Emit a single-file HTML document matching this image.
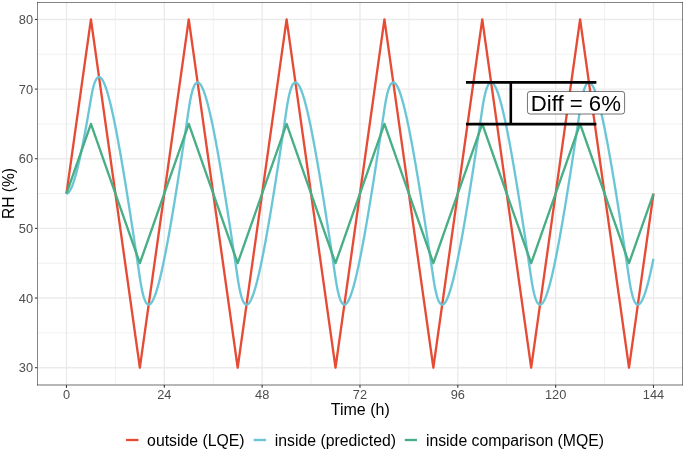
<!DOCTYPE html>
<html><head><meta charset="utf-8"><style>
html,body{margin:0;padding:0;background:#fff;}
body{width:685px;height:451px;overflow:hidden;font-family:"Liberation Sans",sans-serif;}
svg{display:block;will-change:transform;}
</style></head><body>
<svg width="685" height="451" viewBox="0 0 685 451">
<rect x="0" y="0" width="685" height="451" fill="#fff"/>
<line x1="37.12" x2="682.82" y1="332.88" y2="332.88" stroke="#EBEBEB" stroke-width="0.7"/>
<line x1="37.12" x2="682.82" y1="263.23" y2="263.23" stroke="#EBEBEB" stroke-width="0.7"/>
<line x1="37.12" x2="682.82" y1="193.57" y2="193.57" stroke="#EBEBEB" stroke-width="0.7"/>
<line x1="37.12" x2="682.82" y1="123.92" y2="123.92" stroke="#EBEBEB" stroke-width="0.7"/>
<line x1="37.12" x2="682.82" y1="54.28" y2="54.28" stroke="#EBEBEB" stroke-width="0.7"/>
<line y1="2.04" y2="385.11" x1="115.39" x2="115.39" stroke="#EBEBEB" stroke-width="0.7"/>
<line y1="2.04" y2="385.11" x1="213.22" x2="213.22" stroke="#EBEBEB" stroke-width="0.7"/>
<line y1="2.04" y2="385.11" x1="311.05" x2="311.05" stroke="#EBEBEB" stroke-width="0.7"/>
<line y1="2.04" y2="385.11" x1="408.89" x2="408.89" stroke="#EBEBEB" stroke-width="0.7"/>
<line y1="2.04" y2="385.11" x1="506.72" x2="506.72" stroke="#EBEBEB" stroke-width="0.7"/>
<line y1="2.04" y2="385.11" x1="604.55" x2="604.55" stroke="#EBEBEB" stroke-width="0.7"/>
<line x1="37.12" x2="682.82" y1="367.7" y2="367.7" stroke="#EBEBEB" stroke-width="1.4"/>
<line x1="37.12" x2="682.82" y1="298.05" y2="298.05" stroke="#EBEBEB" stroke-width="1.4"/>
<line x1="37.12" x2="682.82" y1="228.4" y2="228.4" stroke="#EBEBEB" stroke-width="1.4"/>
<line x1="37.12" x2="682.82" y1="158.75" y2="158.75" stroke="#EBEBEB" stroke-width="1.4"/>
<line x1="37.12" x2="682.82" y1="89.1" y2="89.1" stroke="#EBEBEB" stroke-width="1.4"/>
<line x1="37.12" x2="682.82" y1="19.45" y2="19.45" stroke="#EBEBEB" stroke-width="1.4"/>
<line y1="2.04" y2="385.11" x1="66.47" x2="66.47" stroke="#EBEBEB" stroke-width="1.4"/>
<line y1="2.04" y2="385.11" x1="164.3" x2="164.3" stroke="#EBEBEB" stroke-width="1.4"/>
<line y1="2.04" y2="385.11" x1="262.14" x2="262.14" stroke="#EBEBEB" stroke-width="1.4"/>
<line y1="2.04" y2="385.11" x1="359.97" x2="359.97" stroke="#EBEBEB" stroke-width="1.4"/>
<line y1="2.04" y2="385.11" x1="457.8" x2="457.8" stroke="#EBEBEB" stroke-width="1.4"/>
<line y1="2.04" y2="385.11" x1="555.64" x2="555.64" stroke="#EBEBEB" stroke-width="1.4"/>
<line y1="2.04" y2="385.11" x1="653.47" x2="653.47" stroke="#EBEBEB" stroke-width="1.4"/>
<polyline fill="none" stroke="#E64B35" stroke-width="2.35" stroke-linejoin="round" stroke-linecap="butt" points="66.47,193.57 90.93,19.45 139.85,367.7 188.76,19.45 237.68,367.7 286.6,19.45 335.51,367.7 384.43,19.45 433.35,367.7 482.26,19.45 531.18,367.7 580.1,19.45 629.01,367.7 653.47,193.57"/>
<polyline fill="none" stroke="#6AC6D7" stroke-width="2.35" stroke-linejoin="round" stroke-linecap="butt" points="66.47,193.57 66.88,193.53 67.29,193.4 67.69,193.19 68.1,192.89 68.51,192.51 68.92,192.06 69.32,191.54 69.73,190.94 70.14,190.27 70.55,189.53 70.95,188.73 71.36,187.87 71.77,186.94 72.18,185.96 72.58,184.91 72.99,183.81 73.4,182.65 73.81,181.45 74.22,180.19 74.62,178.88 75.03,177.52 75.44,176.11 75.85,174.66 76.25,173.17 76.66,171.63 77.07,170.06 77.48,168.44 77.88,166.78 78.29,165.09 78.7,163.35 79.11,161.59 79.51,159.79 79.92,157.95 80.33,156.09 80.74,154.19 81.15,152.26 81.55,150.3 81.96,148.31 82.37,146.3 82.78,144.26 83.18,142.19 83.59,140.1 84,137.98 84.41,135.84 84.81,133.67 85.22,131.49 85.63,129.28 86.04,127.05 86.44,124.8 86.85,122.53 87.26,120.24 87.67,117.94 88.07,115.61 88.48,113.27 88.89,110.91 89.3,108.53 89.71,106.14 90.11,103.73 90.52,101.31 90.93,98.87 91.34,96.51 91.74,94.31 92.15,92.26 92.56,90.36 92.97,88.61 93.37,86.99 93.78,85.52 94.19,84.18 94.6,82.96 95,81.87 95.41,80.91 95.82,80.06 96.23,79.32 96.64,78.69 97.04,78.17 97.45,77.76 97.86,77.44 98.27,77.22 98.67,77.1 99.08,77.07 99.49,77.12 99.9,77.27 100.3,77.49 100.71,77.8 101.12,78.19 101.53,78.65 101.93,79.19 102.34,79.8 102.75,80.47 103.16,81.22 103.57,82.03 103.97,82.9 104.38,83.84 104.79,84.84 105.2,85.89 105.6,87 106.01,88.16 106.42,89.38 106.83,90.64 107.23,91.96 107.64,93.32 108.05,94.74 108.46,96.19 108.86,97.69 109.27,99.24 109.68,100.82 110.09,102.44 110.5,104.11 110.9,105.81 111.31,107.54 111.72,109.31 112.13,111.12 112.53,112.96 112.94,114.83 113.35,116.73 113.76,118.67 114.16,120.63 114.57,122.62 114.98,124.64 115.39,126.69 115.79,128.76 116.2,130.85 116.61,132.97 117.02,135.12 117.42,137.29 117.83,139.48 118.24,141.69 118.65,143.92 119.06,146.17 119.46,148.44 119.87,150.74 120.28,153.05 120.69,155.37 121.09,157.72 121.5,160.08 121.91,162.46 122.32,164.85 122.72,167.26 123.13,169.69 123.54,172.13 123.95,174.58 124.35,177.05 124.76,179.53 125.17,182.02 125.58,184.52 125.99,187.04 126.39,189.57 126.8,192.11 127.21,194.66 127.62,197.22 128.02,199.8 128.43,202.38 128.84,204.97 129.25,207.57 129.65,210.18 130.06,212.8 130.47,215.43 130.88,218.06 131.28,220.71 131.69,223.36 132.1,226.02 132.51,228.69 132.92,231.36 133.32,234.04 133.73,236.73 134.14,239.42 134.55,242.12 134.95,244.83 135.36,247.54 135.77,250.26 136.18,252.98 136.58,255.71 136.99,258.45 137.4,261.19 137.81,263.93 138.21,266.68 138.62,269.43 139.03,272.19 139.44,274.96 139.85,277.72 140.25,280.41 140.66,282.92 141.07,285.27 141.48,287.46 141.88,289.49 142.29,291.38 142.7,293.12 143.11,294.72 143.51,296.18 143.92,297.52 144.33,298.72 144.74,299.8 145.14,300.76 145.55,301.6 145.96,302.33 146.37,302.94 146.78,303.45 147.18,303.86 147.59,304.17 148,304.38 148.41,304.5 148.81,304.52 149.22,304.46 149.63,304.31 150.04,304.07 150.44,303.76 150.85,303.36 151.26,302.89 151.67,302.35 152.07,301.74 152.48,301.05 152.89,300.3 153.3,299.49 153.7,298.61 154.11,297.67 154.52,296.67 154.93,295.61 155.34,294.5 155.74,293.33 156.15,292.11 156.56,290.84 156.97,289.52 157.37,288.15 157.78,286.73 158.19,285.27 158.6,283.77 159,282.22 159.41,280.63 159.82,279.01 160.23,277.34 160.63,275.64 161.04,273.9 161.45,272.12 161.86,270.31 162.27,268.47 162.67,266.6 163.08,264.69 163.49,262.76 163.9,260.79 164.3,258.8 164.71,256.78 165.12,254.73 165.53,252.66 165.93,250.56 166.34,248.44 166.75,246.29 167.16,244.12 167.56,241.93 167.97,239.72 168.38,237.48 168.79,235.23 169.2,232.95 169.6,230.66 170.01,228.35 170.42,226.02 170.83,223.67 171.23,221.31 171.64,218.93 172.05,216.53 172.46,214.12 172.86,211.7 173.27,209.26 173.68,206.8 174.09,204.33 174.49,201.85 174.9,199.36 175.31,196.85 175.72,194.34 176.13,191.81 176.53,189.26 176.94,186.71 177.35,184.15 177.76,181.58 178.16,178.99 178.57,176.4 178.98,173.8 179.39,171.19 179.79,168.57 180.2,165.94 180.61,163.3 181.02,160.66 181.42,158.01 181.83,155.35 182.24,152.68 182.65,150 183.06,147.32 183.46,144.63 183.87,141.94 184.28,139.24 184.69,136.53 185.09,133.82 185.5,131.1 185.91,128.38 186.32,125.65 186.72,122.91 187.13,120.17 187.54,117.43 187.95,114.68 188.35,111.92 188.76,109.16 189.17,106.49 189.58,103.98 189.98,101.64 190.39,99.46 190.8,97.43 191.21,95.55 191.62,93.82 192.02,92.22 192.43,90.77 192.84,89.44 193.25,88.24 193.65,87.17 194.06,86.22 194.47,85.38 194.88,84.66 195.28,84.05 195.69,83.54 196.1,83.14 196.51,82.83 196.91,82.63 197.32,82.52 197.73,82.5 198.14,82.57 198.55,82.72 198.95,82.96 199.36,83.28 199.77,83.67 200.18,84.14 200.58,84.69 200.99,85.31 201.4,86 201.81,86.75 202.21,87.57 202.62,88.45 203.03,89.39 203.44,90.4 203.84,91.46 204.25,92.57 204.66,93.74 205.07,94.97 205.48,96.24 205.88,97.56 206.29,98.93 206.7,100.35 207.11,101.81 207.51,103.32 207.92,104.87 208.33,106.46 208.74,108.08 209.14,109.75 209.55,111.46 209.96,113.2 210.37,114.97 210.77,116.79 211.18,118.63 211.59,120.5 212,122.41 212.41,124.35 212.81,126.31 213.22,128.31 213.63,130.33 214.04,132.38 214.44,134.45 214.85,136.55 215.26,138.68 215.67,140.83 216.07,143 216.48,145.19 216.89,147.4 217.3,149.64 217.7,151.89 218.11,154.17 218.52,156.46 218.93,158.77 219.33,161.1 219.74,163.45 220.15,165.82 220.56,168.2 220.97,170.59 221.37,173 221.78,175.43 222.19,177.87 222.6,180.33 223,182.8 223.41,185.28 223.82,187.77 224.23,190.28 224.63,192.8 225.04,195.33 225.45,197.87 225.86,200.42 226.26,202.98 226.67,205.56 227.08,208.14 227.49,210.73 227.9,213.34 228.3,215.95 228.71,218.57 229.12,221.2 229.53,223.83 229.93,226.48 230.34,229.13 230.75,231.79 231.16,234.46 231.56,237.14 231.97,239.82 232.38,242.51 232.79,245.2 233.19,247.9 233.6,250.61 234.01,253.32 234.42,256.04 234.83,258.77 235.23,261.5 235.64,264.23 236.05,266.97 236.46,269.72 236.86,272.47 237.27,275.22 237.68,277.98 238.09,280.65 238.49,283.16 238.9,285.5 239.31,287.68 239.72,289.71 240.12,291.59 240.53,293.33 240.94,294.92 241.35,296.38 241.76,297.7 242.16,298.9 242.57,299.98 242.98,300.93 243.39,301.76 243.79,302.49 244.2,303.1 244.61,303.61 245.02,304.01 245.42,304.31 245.83,304.52 246.24,304.63 246.65,304.65 247.05,304.58 247.46,304.43 247.87,304.19 248.28,303.87 248.69,303.48 249.09,303 249.5,302.46 249.91,301.84 250.32,301.15 250.72,300.4 251.13,299.58 251.54,298.7 251.95,297.75 252.35,296.75 252.76,295.69 253.17,294.58 253.58,293.41 253.98,292.18 254.39,290.91 254.8,289.59 255.21,288.22 255.61,286.8 256.02,285.34 256.43,283.83 256.84,282.28 257.25,280.69 257.65,279.06 258.06,277.4 258.47,275.69 258.88,273.95 259.28,272.17 259.69,270.36 260.1,268.52 260.51,266.64 260.91,264.74 261.32,262.8 261.73,260.83 262.14,258.84 262.54,256.82 262.95,254.77 263.36,252.69 263.77,250.59 264.18,248.47 264.58,246.32 264.99,244.15 265.4,241.96 265.81,239.75 266.21,237.51 266.62,235.26 267.03,232.98 267.44,230.69 267.84,228.37 268.25,226.04 268.66,223.7 269.07,221.33 269.47,218.95 269.88,216.56 270.29,214.14 270.7,211.72 271.11,209.28 271.51,206.82 271.92,204.35 272.33,201.87 272.74,199.38 273.14,196.87 273.55,194.35 273.96,191.82 274.37,189.28 274.77,186.73 275.18,184.16 275.59,181.59 276,179.01 276.4,176.42 276.81,173.81 277.22,171.2 277.63,168.58 278.04,165.95 278.44,163.32 278.85,160.67 279.26,158.02 279.67,155.36 280.07,152.69 280.48,150.01 280.89,147.33 281.3,144.64 281.7,141.95 282.11,139.25 282.52,136.54 282.93,133.83 283.33,131.11 283.74,128.38 284.15,125.65 284.56,122.92 284.97,120.18 285.37,117.43 285.78,114.68 286.19,111.93 286.6,109.17 287,106.5 287.41,103.99 287.82,101.65 288.23,99.47 288.63,97.44 289.04,95.56 289.45,93.82 289.86,92.23 290.26,90.77 290.67,89.45 291.08,88.25 291.49,87.17 291.89,86.22 292.3,85.39 292.71,84.66 293.12,84.05 293.53,83.54 293.93,83.14 294.34,82.84 294.75,82.63 295.16,82.52 295.56,82.5 295.97,82.57 296.38,82.72 296.79,82.96 297.19,83.28 297.6,83.67 298.01,84.15 298.42,84.69 298.82,85.31 299.23,86 299.64,86.75 300.05,87.57 300.46,88.45 300.86,89.4 301.27,90.4 301.68,91.46 302.09,92.57 302.49,93.74 302.9,94.97 303.31,96.24 303.72,97.56 304.12,98.93 304.53,100.35 304.94,101.81 305.35,103.32 305.75,104.87 306.16,106.46 306.57,108.09 306.98,109.75 307.39,111.46 307.79,113.2 308.2,114.98 308.61,116.79 309.02,118.63 309.42,120.51 309.83,122.41 310.24,124.35 310.65,126.32 311.05,128.31 311.46,130.33 311.87,132.38 312.28,134.46 312.68,136.56 313.09,138.68 313.5,140.83 313.91,143 314.32,145.19 314.72,147.4 315.13,149.64 315.54,151.89 315.95,154.17 316.35,156.46 316.76,158.78 317.17,161.11 317.58,163.45 317.98,165.82 318.39,168.2 318.8,170.59 319.21,173.01 319.61,175.43 320.02,177.87 320.43,180.33 320.84,182.8 321.25,185.28 321.65,187.77 322.06,190.28 322.47,192.8 322.88,195.33 323.28,197.87 323.69,200.42 324.1,202.99 324.51,205.56 324.91,208.14 325.32,210.73 325.73,213.34 326.14,215.95 326.54,218.57 326.95,221.2 327.36,223.83 327.77,226.48 328.17,229.13 328.58,231.79 328.99,234.46 329.4,237.14 329.81,239.82 330.21,242.51 330.62,245.2 331.03,247.9 331.44,250.61 331.84,253.32 332.25,256.04 332.66,258.77 333.07,261.5 333.47,264.23 333.88,266.97 334.29,269.72 334.7,272.47 335.1,275.22 335.51,277.98 335.92,280.65 336.33,283.16 336.74,285.5 337.14,287.68 337.55,289.71 337.96,291.59 338.37,293.33 338.77,294.92 339.18,296.38 339.59,297.7 340,298.9 340.4,299.98 340.81,300.93 341.22,301.76 341.63,302.49 342.03,303.1 342.44,303.61 342.85,304.01 343.26,304.31 343.67,304.52 344.07,304.63 344.48,304.65 344.89,304.58 345.3,304.43 345.7,304.19 346.11,303.87 346.52,303.48 346.93,303 347.33,302.46 347.74,301.84 348.15,301.15 348.56,300.4 348.96,299.58 349.37,298.7 349.78,297.75 350.19,296.75 350.6,295.69 351,294.58 351.41,293.41 351.82,292.18 352.23,290.91 352.63,289.59 353.04,288.22 353.45,286.8 353.86,285.34 354.26,283.83 354.67,282.28 355.08,280.69 355.49,279.06 355.89,277.4 356.3,275.69 356.71,273.95 357.12,272.17 357.52,270.36 357.93,268.52 358.34,266.64 358.75,264.74 359.16,262.8 359.56,260.83 359.97,258.84 360.38,256.82 360.79,254.77 361.19,252.69 361.6,250.59 362.01,248.47 362.42,246.32 362.82,244.15 363.23,241.96 363.64,239.75 364.05,237.51 364.45,235.26 364.86,232.98 365.27,230.69 365.68,228.37 366.09,226.04 366.49,223.7 366.9,221.33 367.31,218.95 367.72,216.56 368.12,214.14 368.53,211.72 368.94,209.28 369.35,206.82 369.75,204.35 370.16,201.87 370.57,199.38 370.98,196.87 371.38,194.35 371.79,191.82 372.2,189.28 372.61,186.73 373.02,184.16 373.42,181.59 373.83,179.01 374.24,176.42 374.65,173.81 375.05,171.2 375.46,168.58 375.87,165.95 376.28,163.32 376.68,160.67 377.09,158.02 377.5,155.36 377.91,152.69 378.31,150.01 378.72,147.33 379.13,144.64 379.54,141.95 379.95,139.25 380.35,136.54 380.76,133.83 381.17,131.11 381.58,128.38 381.98,125.65 382.39,122.92 382.8,120.18 383.21,117.43 383.61,114.68 384.02,111.93 384.43,109.17 384.84,106.5 385.24,103.99 385.65,101.65 386.06,99.47 386.47,97.44 386.88,95.56 387.28,93.82 387.69,92.23 388.1,90.77 388.51,89.45 388.91,88.25 389.32,87.17 389.73,86.22 390.14,85.39 390.54,84.66 390.95,84.05 391.36,83.54 391.77,83.14 392.17,82.84 392.58,82.63 392.99,82.52 393.4,82.5 393.8,82.57 394.21,82.72 394.62,82.96 395.03,83.28 395.44,83.67 395.84,84.15 396.25,84.69 396.66,85.31 397.07,86 397.47,86.75 397.88,87.57 398.29,88.45 398.7,89.4 399.1,90.4 399.51,91.46 399.92,92.57 400.33,93.74 400.73,94.97 401.14,96.24 401.55,97.56 401.96,98.93 402.37,100.35 402.77,101.81 403.18,103.32 403.59,104.87 404,106.46 404.4,108.09 404.81,109.75 405.22,111.46 405.63,113.2 406.03,114.98 406.44,116.79 406.85,118.63 407.26,120.51 407.66,122.41 408.07,124.35 408.48,126.32 408.89,128.31 409.3,130.33 409.7,132.38 410.11,134.46 410.52,136.56 410.93,138.68 411.33,140.83 411.74,143 412.15,145.19 412.56,147.4 412.96,149.64 413.37,151.89 413.78,154.17 414.19,156.46 414.59,158.78 415,161.11 415.41,163.45 415.82,165.82 416.23,168.2 416.63,170.59 417.04,173.01 417.45,175.43 417.86,177.87 418.26,180.33 418.67,182.8 419.08,185.28 419.49,187.77 419.89,190.28 420.3,192.8 420.71,195.33 421.12,197.87 421.52,200.42 421.93,202.99 422.34,205.56 422.75,208.14 423.15,210.73 423.56,213.34 423.97,215.95 424.38,218.57 424.79,221.2 425.19,223.83 425.6,226.48 426.01,229.13 426.42,231.79 426.82,234.46 427.23,237.14 427.64,239.82 428.05,242.51 428.45,245.2 428.86,247.9 429.27,250.61 429.68,253.32 430.08,256.04 430.49,258.77 430.9,261.5 431.31,264.23 431.72,266.97 432.12,269.72 432.53,272.47 432.94,275.22 433.35,277.98 433.75,280.65 434.16,283.16 434.57,285.5 434.98,287.68 435.38,289.71 435.79,291.59 436.2,293.33 436.61,294.92 437.01,296.38 437.42,297.7 437.83,298.9 438.24,299.98 438.65,300.93 439.05,301.76 439.46,302.49 439.87,303.1 440.28,303.61 440.68,304.01 441.09,304.31 441.5,304.52 441.91,304.63 442.31,304.65 442.72,304.58 443.13,304.43 443.54,304.19 443.94,303.87 444.35,303.48 444.76,303 445.17,302.46 445.58,301.84 445.98,301.15 446.39,300.4 446.8,299.58 447.21,298.7 447.61,297.75 448.02,296.75 448.43,295.69 448.84,294.58 449.24,293.41 449.65,292.18 450.06,290.91 450.47,289.59 450.87,288.22 451.28,286.8 451.69,285.34 452.1,283.83 452.51,282.28 452.91,280.69 453.32,279.06 453.73,277.4 454.14,275.69 454.54,273.95 454.95,272.17 455.36,270.36 455.77,268.52 456.17,266.64 456.58,264.74 456.99,262.8 457.4,260.83 457.8,258.84 458.21,256.82 458.62,254.77 459.03,252.69 459.43,250.59 459.84,248.47 460.25,246.32 460.66,244.15 461.07,241.96 461.47,239.75 461.88,237.51 462.29,235.26 462.7,232.98 463.1,230.69 463.51,228.37 463.92,226.04 464.33,223.7 464.73,221.33 465.14,218.95 465.55,216.56 465.96,214.14 466.36,211.72 466.77,209.28 467.18,206.82 467.59,204.35 468,201.87 468.4,199.38 468.81,196.87 469.22,194.35 469.63,191.82 470.03,189.28 470.44,186.73 470.85,184.16 471.26,181.59 471.66,179.01 472.07,176.42 472.48,173.81 472.89,171.2 473.29,168.58 473.7,165.95 474.11,163.32 474.52,160.67 474.93,158.02 475.33,155.36 475.74,152.69 476.15,150.01 476.56,147.33 476.96,144.64 477.37,141.95 477.78,139.25 478.19,136.54 478.59,133.83 479,131.11 479.41,128.38 479.82,125.65 480.22,122.92 480.63,120.18 481.04,117.43 481.45,114.68 481.86,111.93 482.26,109.17 482.67,106.5 483.08,103.99 483.49,101.65 483.89,99.47 484.3,97.44 484.71,95.56 485.12,93.82 485.52,92.23 485.93,90.77 486.34,89.45 486.75,88.25 487.15,87.17 487.56,86.22 487.97,85.39 488.38,84.66 488.79,84.05 489.19,83.54 489.6,83.14 490.01,82.84 490.42,82.63 490.82,82.52 491.23,82.5 491.64,82.57 492.05,82.72 492.45,82.96 492.86,83.28 493.27,83.67 493.68,84.15 494.08,84.69 494.49,85.31 494.9,86 495.31,86.75 495.71,87.57 496.12,88.45 496.53,89.4 496.94,90.4 497.35,91.46 497.75,92.57 498.16,93.74 498.57,94.97 498.98,96.24 499.38,97.56 499.79,98.93 500.2,100.35 500.61,101.81 501.01,103.32 501.42,104.87 501.83,106.46 502.24,108.09 502.64,109.75 503.05,111.46 503.46,113.2 503.87,114.98 504.28,116.79 504.68,118.63 505.09,120.51 505.5,122.41 505.91,124.35 506.31,126.32 506.72,128.31 507.13,130.33 507.54,132.38 507.94,134.46 508.35,136.56 508.76,138.68 509.17,140.83 509.57,143 509.98,145.19 510.39,147.4 510.8,149.64 511.21,151.89 511.61,154.17 512.02,156.46 512.43,158.78 512.84,161.11 513.24,163.45 513.65,165.82 514.06,168.2 514.47,170.59 514.87,173.01 515.28,175.43 515.69,177.87 516.1,180.33 516.5,182.8 516.91,185.28 517.32,187.77 517.73,190.28 518.14,192.8 518.54,195.33 518.95,197.87 519.36,200.42 519.77,202.99 520.17,205.56 520.58,208.14 520.99,210.73 521.4,213.34 521.8,215.95 522.21,218.57 522.62,221.2 523.03,223.83 523.43,226.48 523.84,229.13 524.25,231.79 524.66,234.46 525.06,237.14 525.47,239.82 525.88,242.51 526.29,245.2 526.7,247.9 527.1,250.61 527.51,253.32 527.92,256.04 528.33,258.77 528.73,261.5 529.14,264.23 529.55,266.97 529.96,269.72 530.36,272.47 530.77,275.22 531.18,277.98 531.59,280.65 531.99,283.16 532.4,285.5 532.81,287.68 533.22,289.71 533.63,291.59 534.03,293.33 534.44,294.92 534.85,296.38 535.26,297.7 535.66,298.9 536.07,299.98 536.48,300.93 536.89,301.76 537.29,302.49 537.7,303.1 538.11,303.61 538.52,304.01 538.92,304.31 539.33,304.52 539.74,304.63 540.15,304.65 540.56,304.58 540.96,304.43 541.37,304.19 541.78,303.87 542.19,303.48 542.59,303 543,302.46 543.41,301.84 543.82,301.15 544.22,300.4 544.63,299.58 545.04,298.7 545.45,297.75 545.85,296.75 546.26,295.69 546.67,294.58 547.08,293.41 547.49,292.18 547.89,290.91 548.3,289.59 548.71,288.22 549.12,286.8 549.52,285.34 549.93,283.83 550.34,282.28 550.75,280.69 551.15,279.06 551.56,277.4 551.97,275.69 552.38,273.95 552.78,272.17 553.19,270.36 553.6,268.52 554.01,266.64 554.42,264.74 554.82,262.8 555.23,260.83 555.64,258.84 556.05,256.82 556.45,254.77 556.86,252.69 557.27,250.59 557.68,248.47 558.08,246.32 558.49,244.15 558.9,241.96 559.31,239.75 559.71,237.51 560.12,235.26 560.53,232.98 560.94,230.69 561.34,228.37 561.75,226.04 562.16,223.7 562.57,221.33 562.98,218.95 563.38,216.56 563.79,214.14 564.2,211.72 564.61,209.28 565.01,206.82 565.42,204.35 565.83,201.87 566.24,199.38 566.64,196.87 567.05,194.35 567.46,191.82 567.87,189.28 568.27,186.73 568.68,184.16 569.09,181.59 569.5,179.01 569.91,176.42 570.31,173.81 570.72,171.2 571.13,168.58 571.54,165.95 571.94,163.32 572.35,160.67 572.76,158.02 573.17,155.36 573.57,152.69 573.98,150.01 574.39,147.33 574.8,144.64 575.2,141.95 575.61,139.25 576.02,136.54 576.43,133.83 576.84,131.11 577.24,128.38 577.65,125.65 578.06,122.92 578.47,120.18 578.87,117.43 579.28,114.68 579.69,111.93 580.1,109.17 580.5,106.5 580.91,103.99 581.32,101.65 581.73,99.47 582.13,97.44 582.54,95.56 582.95,93.82 583.36,92.23 583.77,90.77 584.17,89.45 584.58,88.25 584.99,87.17 585.4,86.22 585.8,85.39 586.21,84.66 586.62,84.05 587.03,83.54 587.43,83.14 587.84,82.84 588.25,82.63 588.66,82.52 589.06,82.5 589.47,82.57 589.88,82.72 590.29,82.96 590.7,83.28 591.1,83.67 591.51,84.15 591.92,84.69 592.33,85.31 592.73,86 593.14,86.75 593.55,87.57 593.96,88.45 594.36,89.4 594.77,90.4 595.18,91.46 595.59,92.57 595.99,93.74 596.4,94.97 596.81,96.24 597.22,97.56 597.62,98.93 598.03,100.35 598.44,101.81 598.85,103.32 599.26,104.87 599.66,106.46 600.07,108.09 600.48,109.75 600.89,111.46 601.29,113.2 601.7,114.98 602.11,116.79 602.52,118.63 602.92,120.51 603.33,122.41 603.74,124.35 604.15,126.32 604.55,128.31 604.96,130.33 605.37,132.38 605.78,134.46 606.19,136.56 606.59,138.68 607,140.83 607.41,143 607.82,145.19 608.22,147.4 608.63,149.64 609.04,151.89 609.45,154.17 609.85,156.46 610.26,158.78 610.67,161.11 611.08,163.45 611.48,165.82 611.89,168.2 612.3,170.59 612.71,173.01 613.12,175.43 613.52,177.87 613.93,180.33 614.34,182.8 614.75,185.28 615.15,187.77 615.56,190.28 615.97,192.8 616.38,195.33 616.78,197.87 617.19,200.42 617.6,202.99 618.01,205.56 618.41,208.14 618.82,210.73 619.23,213.34 619.64,215.95 620.05,218.57 620.45,221.2 620.86,223.83 621.27,226.48 621.68,229.13 622.08,231.79 622.49,234.46 622.9,237.14 623.31,239.82 623.71,242.51 624.12,245.2 624.53,247.9 624.94,250.61 625.34,253.32 625.75,256.04 626.16,258.77 626.57,261.5 626.98,264.23 627.38,266.97 627.79,269.72 628.2,272.47 628.61,275.22 629.01,277.98 629.42,280.65 629.83,283.16 630.24,285.5 630.64,287.68 631.05,289.71 631.46,291.59 631.87,293.33 632.27,294.92 632.68,296.38 633.09,297.7 633.5,298.9 633.9,299.98 634.31,300.93 634.72,301.76 635.13,302.49 635.54,303.1 635.94,303.61 636.35,304.01 636.76,304.31 637.17,304.52 637.57,304.63 637.98,304.65 638.39,304.58 638.8,304.43 639.2,304.19 639.61,303.87 640.02,303.48 640.43,303 640.83,302.46 641.24,301.84 641.65,301.15 642.06,300.4 642.47,299.58 642.87,298.7 643.28,297.75 643.69,296.75 644.1,295.69 644.5,294.58 644.91,293.41 645.32,292.18 645.73,290.91 646.13,289.59 646.54,288.22 646.95,286.8 647.36,285.34 647.76,283.83 648.17,282.28 648.58,280.69 648.99,279.06 649.4,277.4 649.8,275.69 650.21,273.95 650.62,272.17 651.03,270.36 651.43,268.52 651.84,266.64 652.25,264.74 652.66,262.8 653.06,260.83 653.47,258.84"/>
<polyline fill="none" stroke="#48AE85" stroke-width="2.35" stroke-linejoin="round" stroke-linecap="butt" points="66.47,193.57 90.93,123.92 139.85,263.23 188.76,123.92 237.68,263.23 286.6,123.92 335.51,263.23 384.43,123.92 433.35,263.23 482.26,123.92 531.18,263.23 580.1,123.92 629.01,263.23 653.47,193.57"/>
<line x1="465.96" y1="82.39" x2="596.4" y2="82.39" stroke="#000" stroke-width="2.6" stroke-linecap="butt"/>
<line x1="465.96" y1="124.17" x2="596.4" y2="124.17" stroke="#000" stroke-width="2.6" stroke-linecap="butt"/>
<line x1="510.8" y1="82.39" x2="510.8" y2="124.17" stroke="#000" stroke-width="2.6" stroke-linecap="butt"/>
<rect x="527.45" y="91.45" width="97.15" height="22.55" rx="2.6" ry="2.6" fill="#fff" stroke="#000" stroke-width="0.55"/>
<text x="530.7" y="110.8" font-family="Liberation Sans" font-size="22.2" fill="#000">Diff = 6%</text>
<rect x="37" y="2" width="0.6" height="383.35" fill="#333333"/>
<rect x="682.35" y="2" width="0.6" height="383.35" fill="#333333"/>
<rect x="37" y="2" width="645.95" height="0.6" fill="#333333"/>
<rect x="37" y="384.65" width="645.95" height="0.7" fill="#333333"/>
<line x1="34.9" x2="37.12" y1="367.7" y2="367.7" stroke="#333333" stroke-width="1.07"/>
<line x1="34.9" x2="37.12" y1="298.05" y2="298.05" stroke="#333333" stroke-width="1.07"/>
<line x1="34.9" x2="37.12" y1="228.4" y2="228.4" stroke="#333333" stroke-width="1.07"/>
<line x1="34.9" x2="37.12" y1="158.75" y2="158.75" stroke="#333333" stroke-width="1.07"/>
<line x1="34.9" x2="37.12" y1="89.1" y2="89.1" stroke="#333333" stroke-width="1.07"/>
<line x1="34.9" x2="37.12" y1="19.45" y2="19.45" stroke="#333333" stroke-width="1.07"/>
<line y1="385.11" y2="387.86" x1="66.47" x2="66.47" stroke="#333333" stroke-width="1.07"/>
<line y1="385.11" y2="387.86" x1="164.3" x2="164.3" stroke="#333333" stroke-width="1.07"/>
<line y1="385.11" y2="387.86" x1="262.14" x2="262.14" stroke="#333333" stroke-width="1.07"/>
<line y1="385.11" y2="387.86" x1="359.97" x2="359.97" stroke="#333333" stroke-width="1.07"/>
<line y1="385.11" y2="387.86" x1="457.8" x2="457.8" stroke="#333333" stroke-width="1.07"/>
<line y1="385.11" y2="387.86" x1="555.64" x2="555.64" stroke="#333333" stroke-width="1.07"/>
<line y1="385.11" y2="387.86" x1="653.47" x2="653.47" stroke="#333333" stroke-width="1.07"/>
<text x="33" y="372.25" text-anchor="end" font-family="Liberation Sans" font-size="12.8" fill="#4D4D4D">30</text>
<text x="33" y="302.6" text-anchor="end" font-family="Liberation Sans" font-size="12.8" fill="#4D4D4D">40</text>
<text x="33" y="232.95" text-anchor="end" font-family="Liberation Sans" font-size="12.8" fill="#4D4D4D">50</text>
<text x="33" y="163.3" text-anchor="end" font-family="Liberation Sans" font-size="12.8" fill="#4D4D4D">60</text>
<text x="33" y="93.65" text-anchor="end" font-family="Liberation Sans" font-size="12.8" fill="#4D4D4D">70</text>
<text x="33" y="24" text-anchor="end" font-family="Liberation Sans" font-size="12.8" fill="#4D4D4D">80</text>
<text x="66.47" y="398.5" text-anchor="middle" font-family="Liberation Sans" font-size="12.8" fill="#4D4D4D">0</text>
<text x="164.3" y="398.5" text-anchor="middle" font-family="Liberation Sans" font-size="12.8" fill="#4D4D4D">24</text>
<text x="262.14" y="398.5" text-anchor="middle" font-family="Liberation Sans" font-size="12.8" fill="#4D4D4D">48</text>
<text x="359.97" y="398.5" text-anchor="middle" font-family="Liberation Sans" font-size="12.8" fill="#4D4D4D">72</text>
<text x="457.8" y="398.5" text-anchor="middle" font-family="Liberation Sans" font-size="12.8" fill="#4D4D4D">96</text>
<text x="555.64" y="398.5" text-anchor="middle" font-family="Liberation Sans" font-size="12.8" fill="#4D4D4D">120</text>
<text x="653.47" y="398.5" text-anchor="middle" font-family="Liberation Sans" font-size="12.8" fill="#4D4D4D">144</text>
<text x="360.27" y="415.1" text-anchor="middle" font-family="Liberation Sans" font-size="16" fill="#000">Time (h)</text>
<text transform="translate(13.8,193.57) rotate(-90)" x="0" y="0" text-anchor="middle" font-family="Liberation Sans" font-size="15.6" fill="#000">RH (%)</text>
<line x1="126.07" x2="138.45" y1="440.0" y2="440.0" stroke="#E64B35" stroke-width="2.35"/>
<line x1="253.67" x2="266.04" y1="440.0" y2="440.0" stroke="#6AC6D7" stroke-width="2.35"/>
<line x1="404.8" x2="417.0" y1="440.0" y2="440.0" stroke="#48AE85" stroke-width="2.35"/>
<text x="147.1" y="445.5" font-family="Liberation Sans" font-size="15.8" fill="#000">outside (LQE)</text>
<text x="274.8" y="445.5" font-family="Liberation Sans" font-size="15.8" fill="#000">inside (predicted)</text>
<text x="425.9" y="445.5" font-family="Liberation Sans" font-size="15.8" fill="#000">inside comparison (MQE)</text>
</svg>
</body></html>
